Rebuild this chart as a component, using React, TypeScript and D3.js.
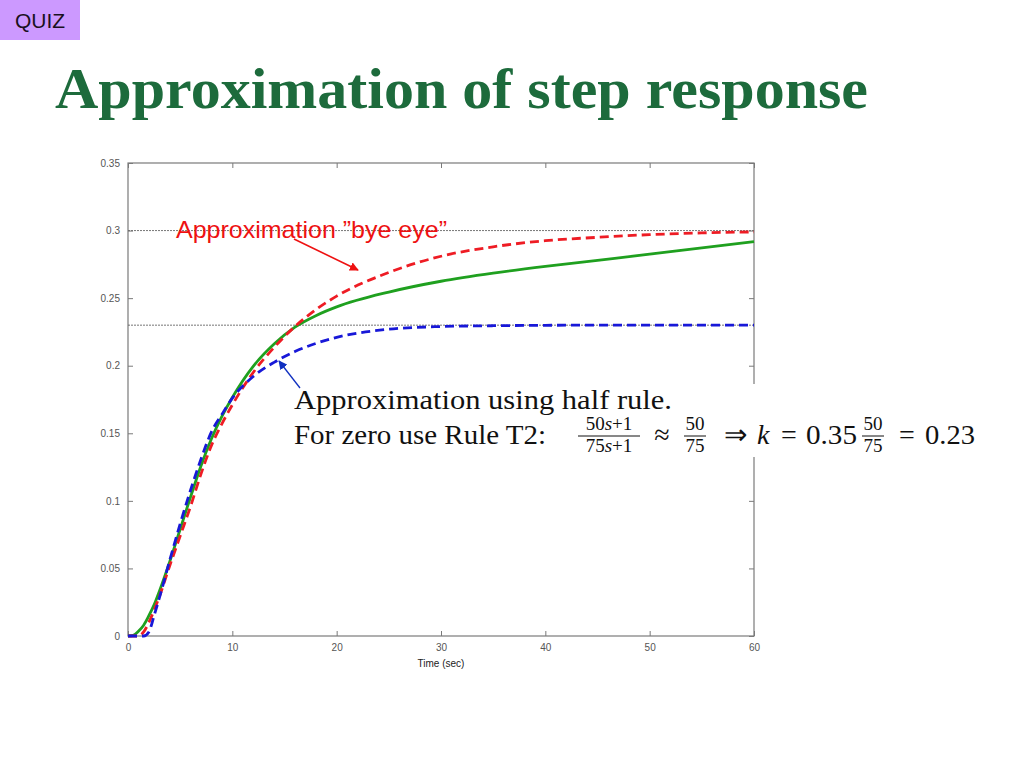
import { useEffect, useRef } from "react";
import * as d3 from "d3";

// step response of the original system and two first order approximations
const time = [0, 0.5, 1, 1.5, 2, 2.5, 3, 4, 5, 6, 7, 8, 9, 10, 12, 14, 16, 18, 20, 25, 30, 35, 40, 45, 50, 55, 60];
const original = [0, 0.0005, 0.0035, 0.008, 0.015, 0.023, 0.033, 0.055, 0.079, 0.103, 0.126, 0.146, 0.1625, 0.1765, 0.1995, 0.216, 0.2285, 0.237, 0.2435, 0.2545, 0.2625, 0.2685, 0.2735, 0.278, 0.2825, 0.2872, 0.2918];
const byEye = [0, 0, 0, 0.003, 0.01, 0.019, 0.029, 0.052, 0.074, 0.096, 0.12, 0.141, 0.157, 0.171, 0.195, 0.2135, 0.229, 0.2415, 0.2515, 0.269, 0.281, 0.288, 0.2925, 0.295, 0.297, 0.2983, 0.299];
const halfRule = [0, 0, 0, 0, 0.003, 0.015, 0.028, 0.056, 0.083, 0.108, 0.131, 0.151, 0.164, 0.176, 0.192, 0.2025, 0.2105, 0.2165, 0.221, 0.227, 0.229, 0.2296, 0.2299, 0.23, 0.23, 0.23, 0.23];

const xTicks = [0, 10, 20, 30, 40, 50, 60];
const yTicks = [0, 0.05, 0.1, 0.15, 0.2, 0.25, 0.3, 0.35];
const refLevels = [0.3, 0.23];

const margin = { left: 128, right: 754, top: 163, bottom: 636 };

export default function App() {
  const gx = useRef<SVGGElement>(null);
  const gy = useRef<SVGGElement>(null);
  const gxTop = useRef<SVGGElement>(null);
  const gyRight = useRef<SVGGElement>(null);

  const x = d3.scaleLinear([0, 60], [margin.left, margin.right]);
  const y = d3.scaleLinear([0, 0.35], [margin.bottom, margin.top]);

  const line = (vals: number[]) =>
    d3
      .line<number>()
      .x((_, i) => x(time[i]))
      .y((d) => y(d))
      .curve(d3.curveMonotoneX)(vals) || "";

  useEffect(() => {
    const style = (g: any) => {
      g.select(".domain").remove();
      g.selectAll("line").attr("stroke", "#7a7a7a");
      g.selectAll("text").attr("fill", "#555").attr("font-family", "Arial, 'Liberation Sans', sans-serif").attr("font-size", 10);
    };
    d3.select(gx.current!)
      .call(d3.axisBottom(x).tickValues(xTicks).tickSize(-5).tickPadding(8).tickFormat(d3.format("d")) as any)
      .call(style);
    d3.select(gy.current!)
      .call(d3.axisLeft(y).tickValues(yTicks).tickSize(-5).tickPadding(8).tickFormat((d) => String(+d)) as any)
      .call(style);
    d3.select(gxTop.current!)
      .call(d3.axisTop(x).tickValues(xTicks).tickSize(-5).tickFormat(() => "") as any)
      .call(style);
    d3.select(gyRight.current!)
      .call(d3.axisRight(y).tickValues(yTicks).tickSize(-5).tickFormat(() => "") as any)
      .call(style);
  }, []);

  const serif = "'Liberation Serif', 'Times New Roman', serif";

  return (
    <svg width={1024} height={768} style={{ position: "absolute", left: 0, top: 0, background: "#fff" }}>
      <defs>
        <marker id="redHead" viewBox="0 0 10 10" refX="9" refY="5" markerWidth="9" markerHeight="9" orient="auto" markerUnits="userSpaceOnUse">
          <path d="M0,0 L10,5 L0,10 z" fill="#ee1111" />
        </marker>
        <marker id="blueHead" viewBox="0 0 10 10" refX="9" refY="5" markerWidth="9" markerHeight="9" orient="auto" markerUnits="userSpaceOnUse">
          <path d="M0,0 L10,5 L0,10 z" fill="#1030c0" />
        </marker>
      </defs>

      {/* QUIZ tag */}
      <rect x={0} y={0} width={80} height={40} fill="#cc99ff" />
      <text x={40} y={28} textAnchor="middle" fontFamily="Arial, 'Liberation Sans', sans-serif" fontSize={21} fill="#1a1020">
        QUIZ
      </text>

      {/* title */}
      <text x={55} y={108} fontFamily={serif} fontWeight="bold" fontSize={57} fill="#1d6b3c" textLength={813} lengthAdjust="spacingAndGlyphs">
        Approximation of step response
      </text>

      {/* plot box */}
      <rect x={margin.left} y={margin.top} width={margin.right - margin.left} height={margin.bottom - margin.top} fill="#fff" stroke="#7a7a7a" strokeWidth={1.2} />
      <g ref={gx} transform={`translate(0,${margin.bottom})`} />
      <g ref={gy} transform={`translate(${margin.left},0)`} />
      <g ref={gxTop} transform={`translate(0,${margin.top})`} />
      <g ref={gyRight} transform={`translate(${margin.right},0)`} />

      {refLevels.map((v) => (
        <line key={v} x1={margin.left} x2={margin.right} y1={y(v)} y2={y(v)} stroke="#666" strokeWidth={0.9} strokeDasharray="2,1" />
      ))}

      <text x={(margin.left + margin.right) / 2} y={667} textAnchor="middle" fontFamily="Arial, 'Liberation Sans', sans-serif" fontSize={10} fill="#222">
        Time (sec)
      </text>

      {/* curves */}
      <path d={line(original)} fill="none" stroke="#1fa01f" strokeWidth={2.8} />
      <path d={line(byEye)} fill="none" stroke="#ee1c24" strokeWidth={2.8} strokeDasharray="9,5" />
      <path d={line(halfRule)} fill="none" stroke="#1818d8" strokeWidth={2.8} strokeDasharray="9,5" />

      {/* red annotation */}
      <text x={176} y={238} fontFamily="Arial, 'Liberation Sans', sans-serif" fontSize={24} fill="#ee1111" textLength={271} lengthAdjust="spacingAndGlyphs">
        Approximation ”bye eye”
      </text>
      <line x1={294} y1={239} x2={358} y2={270} stroke="#ee1111" strokeWidth={1.6} markerEnd="url(#redHead)" />

      {/* blue annotation */}
      <rect x={288} y={384} width={700} height={73} fill="#fff" />
      <line x1={300} y1={388} x2={279} y2={361} stroke="#1030c0" strokeWidth={1.3} markerEnd="url(#blueHead)" />
      <g fontFamily={serif} fill="#111">
        <text x={294} y={409} fontSize={28} textLength={378} lengthAdjust="spacingAndGlyphs">
          Approximation using half rule.
        </text>
        <text x={294} y={444} fontSize={28} textLength={252} lengthAdjust="spacingAndGlyphs">
          For zero use Rule T2:
        </text>
        {/* (50s+1)/(75s+1) */}
        <text x={609} y={430} fontSize={19} textAnchor="middle">
          50<tspan fontStyle="italic">s</tspan>+1
        </text>
        <line x1={578} x2={640} y1={436} y2={436} stroke="#111" strokeWidth={1} />
        <text x={609} y={452} fontSize={19} textAnchor="middle">
          75<tspan fontStyle="italic">s</tspan>+1
        </text>
        <text x={662} y={444} fontSize={28} textAnchor="middle">≈</text>
        <text x={695} y={430} fontSize={19} textAnchor="middle">50</text>
        <line x1={684} x2={706} y1={436} y2={436} stroke="#111" strokeWidth={1} />
        <text x={695} y={452} fontSize={19} textAnchor="middle">75</text>
        <text x={735} y={444} fontSize={28} textAnchor="middle">⇒</text>
        <text x={757} y={444} fontSize={28} fontStyle="italic">k</text>
        <text x={789} y={444} fontSize={28} textAnchor="middle">=</text>
        <text x={806} y={444} fontSize={28} textLength={51} lengthAdjust="spacingAndGlyphs">0.35</text>
        <text x={873} y={430} fontSize={19} textAnchor="middle">50</text>
        <line x1={862} x2={884} y1={436} y2={436} stroke="#111" strokeWidth={1} />
        <text x={873} y={452} fontSize={19} textAnchor="middle">75</text>
        <text x={907} y={444} fontSize={28} textAnchor="middle">=</text>
        <text x={925} y={444} fontSize={28} textLength={50} lengthAdjust="spacingAndGlyphs">0.23</text>
      </g>
    </svg>
  );
}
